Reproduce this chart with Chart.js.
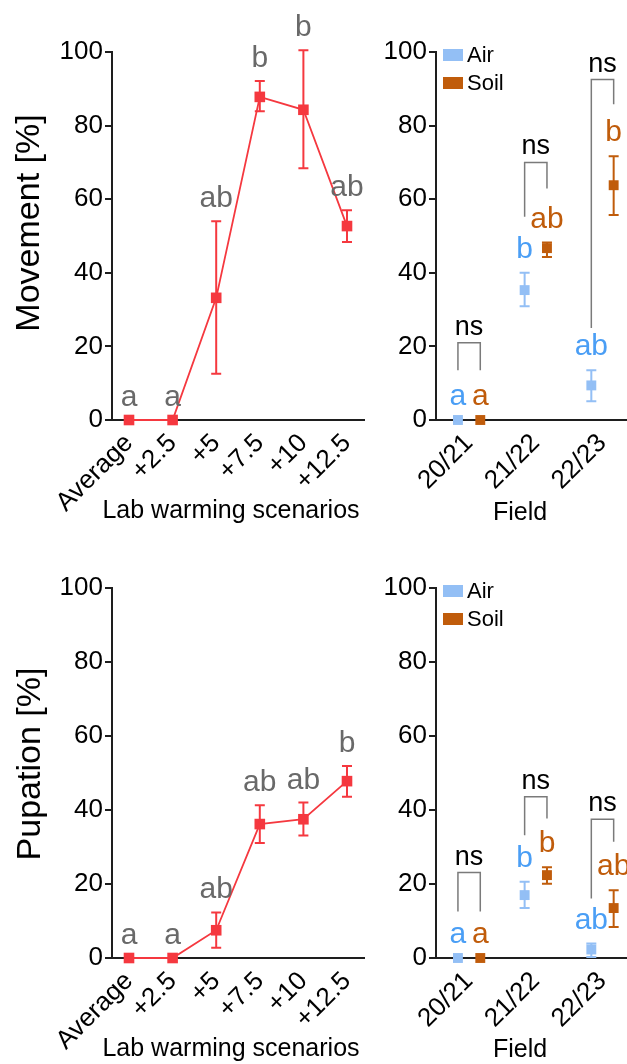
<!DOCTYPE html>
<html>
<head>
<meta charset="utf-8">
<script src="https://cdn.jsdelivr.net/npm/chart.js@4.4.1/dist/chart.umd.min.js"></script>
<style>
  html, body { margin: 0; padding: 0; background: #fff; }
  #wrap { position: relative; width: 627px; height: 1064px; overflow: hidden; }
  .panel { position: absolute; }
</style>
</head>
<body>
<div id="wrap">
  <div class="panel" style="left:0;top:0"><canvas id="moveLab" width="370" height="532"></canvas></div>
  <div class="panel" style="left:370px;top:0"><canvas id="moveField" width="257" height="532"></canvas></div>
  <div class="panel" style="left:0;top:536px"><canvas id="pupaLab" width="370" height="528"></canvas></div>
  <div class="panel" style="left:370px;top:536px"><canvas id="pupaField" width="257" height="528"></canvas></div>
</div>
<script>
/* ── Data ─────────────────────────────────────────────────── */
const labScenarios = ['Average', '+2.5', '+5', '+7.5', '+10', '+12.5'];
const fieldSeasons = ['20/21', '21/22', '22/23'];
const yTicks = [0, 20, 40, 60, 80, 100];

/* movement, lab */
const moveLabMean    = [0, 0, 33.2, 87.8, 84.3, 52.7];
const moveLabLow     = [0, 0, 12.6, 83.9, 68.4, 48.4];
const moveLabHigh    = [0, 0, 54.0, 92.1, 100.5, 57.0];
const moveLabLetters = ['a', 'a', 'ab', 'b', 'b', 'ab'];

/* pupation, lab */
const pupaLabMean    = [0, 0, 7.5, 36.2, 37.5, 47.8];
const pupaLabLow     = [0, 0, 2.8, 31.1, 33.1, 43.6];
const pupaLabHigh    = [0, 0, 12.3, 41.3, 42.0, 51.9];
const pupaLabLetters = ['a', 'a', 'ab', 'ab', 'ab', 'b'];

/* movement, field */
const moveAirMean     = [0, 35.3, 9.4];
const moveAirLow      = [0, 30.9, 5.1];
const moveAirHigh     = [0, 40.0, 13.5];
const moveAirLetters  = ['a', 'b', 'ab'];
const moveSoilMean    = [0, 46.7, 63.8];
const moveSoilLow     = [0, 44.3, 55.7];
const moveSoilHigh    = [0, 48.2, 71.7];
const moveSoilLetters = ['a', 'ab', 'b'];
const moveNsTop       = [21, 70, 92.5];
const moveNsAirEnd    = [13.5, 55.2, 25];
const moveNsSoilEnd   = [13.5, 62.9, 85.8];

/* pupation, field */
const pupaAirMean     = [0, 17.0, 2.3];
const pupaAirLow      = [0, 13.5, 0.3];
const pupaAirHigh     = [0, 20.6, 3.9];
const pupaAirLetters  = ['a', 'b', 'ab'];
const pupaSoilMean    = [0, 22.4, 13.5];
const pupaSoilLow     = [0, 20.1, 8.4];
const pupaSoilHigh    = [0, 24.5, 18.3];
const pupaSoilLetters = ['a', 'b', 'ab'];
const pupaNsTop       = [23.1, 43.6, 37.5];
const pupaNsAirEnd    = [12.6, 33.2, 16.1];
const pupaNsSoilEnd   = [12.6, 37.7, 31.4];

/* ── Styles ───────────────────────────────────────────────── */
const FONT       = '"Liberation Sans", Arial, Helvetica, sans-serif';
const RED        = '#f5383f';
const AIR        = '#93bff5';
const AIR_TEXT   = '#4a9ef5';
const SOIL       = '#c05c0b';
const GRAY_TEXT  = '#696969';
const BRACKET    = '#7a7a7a';
const AXIS       = '#1e1e1e';

Chart.defaults.font.family = FONT;
Chart.defaults.color = '#000';

/* ── Plugin: error bars, letters, ns brackets, legend, titles ── */
const annotate = {
  id: 'annotate',
  afterDatasetsDraw(chart, args, opts) {
    const ctx = chart.ctx;
    const xs = chart.scales.x, ys = chart.scales.y;
    ctx.save();

    chart.data.datasets.forEach(ds => {
      ds.data.forEach((pt, i) => {
        const px = xs.getPixelForValue(pt.x);
        const lo = ys.getPixelForValue(ds.errLow[i]);
        const hi = ys.getPixelForValue(ds.errHigh[i]);
        if (ds.errHigh[i] > ds.errLow[i]) {
          ctx.strokeStyle = ds.borderColor;
          ctx.lineWidth = 2;
          ctx.beginPath();
          ctx.moveTo(px, lo); ctx.lineTo(px, hi);
          ctx.moveTo(px - 5, lo); ctx.lineTo(px + 5, lo);
          ctx.moveTo(px - 5, hi); ctx.lineTo(px + 5, hi);
          ctx.stroke();
        }
        ctx.fillStyle = ds.letterColor;
        ctx.font = '30px ' + FONT;
        ctx.textAlign = 'center';
        ctx.textBaseline = 'alphabetic';
        ctx.fillText(ds.letters[i], px, hi - opts.letterGap);
      });
    });

    /* ns brackets between Air and Soil */
    if (opts.brackets) {
      const b = opts.brackets;
      const air = chart.data.datasets[0].data, soil = chart.data.datasets[1].data;
      b.top.forEach((top, i) => {
        const xa = xs.getPixelForValue(air[i].x);
        const xb = xs.getPixelForValue(soil[i].x);
        const yt = ys.getPixelForValue(top);
        ctx.strokeStyle = BRACKET;
        ctx.lineWidth = 1.5;
        ctx.beginPath();
        ctx.moveTo(xa, ys.getPixelForValue(b.airEnd[i]));
        ctx.lineTo(xa, yt);
        ctx.lineTo(xb, yt);
        ctx.lineTo(xb, ys.getPixelForValue(b.soilEnd[i]));
        ctx.stroke();
        ctx.fillStyle = '#000';
        ctx.font = '27px ' + FONT;
        ctx.textAlign = 'center';
        ctx.fillText('ns', (xa + xb) / 2, yt - 8);
      });
    }

    /* legend */
    if (opts.legend) {
      const area = chart.chartArea;
      chart.data.datasets.forEach((ds, i) => {
        const cy = area.top + 3 + i * 28;
        ctx.fillStyle = ds.backgroundColor;
        ctx.fillRect(area.left + 7, cy - 6, 20, 12);
        ctx.fillStyle = '#000';
        ctx.font = '22px ' + FONT;
        ctx.textAlign = 'left';
        ctx.textBaseline = 'middle';
        ctx.fillText(ds.label, area.left + 31, cy + 1);
      });
    }

    /* axis titles */
    ctx.fillStyle = '#000';
    ctx.textAlign = 'center';
    ctx.textBaseline = 'middle';
    if (opts.xTitle) {
      ctx.font = '25px ' + FONT;
      ctx.fillText(opts.xTitle.text, opts.xTitle.x, opts.xTitle.y);
    }
    if (opts.yTitle) {
      ctx.save();
      ctx.translate(opts.yTitle.x, opts.yTitle.y);
      ctx.rotate(-Math.PI / 2);
      ctx.font = '34px ' + FONT;
      ctx.fillText(opts.yTitle.text, 0, 0);
      ctx.restore();
    }
    ctx.restore();
  }
};

/* ── Shared scale builders ───────────────────────────────── */
function yScale(area) {
  return {
    min: 0, max: 100,
    afterBuildTicks: s => { s.ticks = yTicks.map(v => ({ value: v })); },
    afterFit: s => { s.width = area.left; },
    grid: { display: true, drawOnChartArea: false, drawTicks: true, tickLength: 7, color: AXIS, lineWidth: 2 },
    border: { display: true, color: AXIS, width: 2 },
    ticks: { color: '#000', font: { size: 26 }, padding: 2 }
  };
}

function xScale(labels, min, max, area, H) {
  return {
    type: 'linear', min, max,
    afterBuildTicks: s => { s.ticks = labels.map((_, i) => ({ value: i })); },
    afterFit: s => { s.height = H - area.bottom; },
    grid: { display: false },
    border: { display: true, color: AXIS, width: 2 },
    ticks: {
      callback: v => labels[v],
      autoSkip: false, minRotation: 45, maxRotation: 45,
      color: '#000', font: { size: 26 }, padding: 0
    }
  };
}

function baseOptions(area, W, H, scales, plugin) {
  return {
    responsive: false,
    animation: false,
    events: [],
    layout: { autoPadding: false, padding: { top: area.top, left: 0, right: W - area.right, bottom: 0 } },
    plugins: { legend: { display: false }, tooltip: { enabled: false }, annotate: plugin },
    scales
  };
}

/* ── Lab warming charts ──────────────────────────────────── */
function labChart(id, mean, low, high, letters, yTitle, area, titles) {
  const canvas = document.getElementById(id);
  const W = canvas.width, H = canvas.height;
  new Chart(canvas, {
    type: 'line',
    data: {
      datasets: [{
        data: mean.map((v, i) => ({ x: i, y: v })),
        errLow: low, errHigh: high, letters, letterColor: GRAY_TEXT,
        borderColor: RED, backgroundColor: RED, borderWidth: 1.8, tension: 0,
        pointStyle: 'rect', pointRadius: 7.5, pointBorderWidth: 0, pointBackgroundColor: RED,
        clip: false
      }]
    },
    options: baseOptions(area, W, H, {
      x: xScale(labScenarios, -0.39, 5.39, area, H),
      y: yScale(area)
    }, {
      letterGap: 14,
      xTitle: { text: 'Lab warming scenarios', x: titles.xx, y: titles.xy },
      yTitle: { text: yTitle, x: titles.yx, y: titles.yy }
    }),
    plugins: [annotate]
  });
}

/* ── Field charts ────────────────────────────────────────── */
function fieldChart(id, air, soil, brackets, area, titles) {
  const canvas = document.getElementById(id);
  const W = canvas.width, H = canvas.height;
  const mk = (label, s, color, textColor, shift) => ({
    label,
    data: s.mean.map((v, i) => ({ x: i + shift, y: v })),
    errLow: s.low, errHigh: s.high, letters: s.letters, letterColor: textColor,
    borderColor: color, backgroundColor: color, showLine: false,
    pointStyle: 'rect', pointRadius: 7, pointBorderWidth: 0, pointBackgroundColor: color,
    clip: false
  });
  new Chart(canvas, {
    type: 'scatter',
    data: {
      datasets: [
        mk('Air', air, AIR, AIR_TEXT, -0.165),
        mk('Soil', soil, SOIL, SOIL, 0.17)
      ]
    },
    options: baseOptions(area, W, H, {
      x: xScale(fieldSeasons, -0.494, 2.37, area, H),
      y: yScale(area)
    }, {
      letterGap: 15,
      legend: true,
      brackets,
      xTitle: { text: 'Field', x: titles.xx, y: titles.xy }
    }),
    plugins: [annotate]
  });
}

labChart('moveLab', moveLabMean, moveLabLow, moveLabHigh, moveLabLetters, 'Movement [%]',
  { left: 112, right: 364, top: 52, bottom: 420 },
  { xx: 231, xy: 511, yx: 30, yy: 223 });

labChart('pupaLab', pupaLabMean, pupaLabLow, pupaLabHigh, pupaLabLetters, 'Pupation [%]',
  { left: 112, right: 364, top: 52, bottom: 422 },
  { xx: 231, xy: 513, yx: 31, yy: 228 });

fieldChart('moveField',
  { mean: moveAirMean, low: moveAirLow, high: moveAirHigh, letters: moveAirLetters },
  { mean: moveSoilMean, low: moveSoilLow, high: moveSoilHigh, letters: moveSoilLetters },
  { top: moveNsTop, airEnd: moveNsAirEnd, soilEnd: moveNsSoilEnd },
  { left: 66, right: 257, top: 52, bottom: 420 },
  { xx: 150, xy: 513 });

fieldChart('pupaField',
  { mean: pupaAirMean, low: pupaAirLow, high: pupaAirHigh, letters: pupaAirLetters },
  { mean: pupaSoilMean, low: pupaSoilLow, high: pupaSoilHigh, letters: pupaSoilLetters },
  { top: pupaNsTop, airEnd: pupaNsAirEnd, soilEnd: pupaNsSoilEnd },
  { left: 66, right: 257, top: 52, bottom: 422 },
  { xx: 150, xy: 514 });
</script>
</body>
</html>
